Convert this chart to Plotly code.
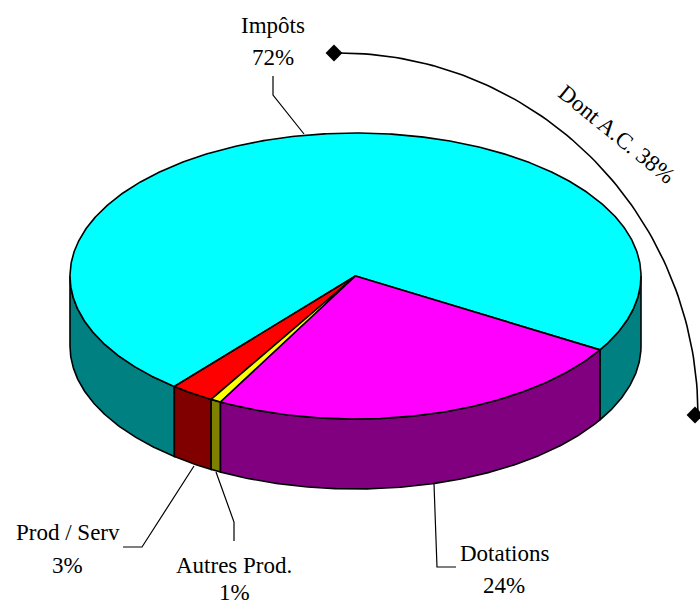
import numpy as np
import plotly.graph_objects as go

# Data
categories = ["Impôts", "Dotations", "Autres Prod.", "Prod / Serv"]
shares = [72.7, 24.2, 0.6, 2.5]
share_labels = ["72%", "24%", "1%", "3%"]
callout_text = "Dont A.C. 38%"

# Styles and layout
top_colors = ["#00FFFF", "#FF00FF", "#FFFF00", "#FF0000"]
wall_colors = ["#008080", "#800080", "#808000", "#800000"]
W, H = 700, 607
CX, CY, RX, RY, DEPTH = 355.5, 276.0, 285.5, 143.0, 70.0
START = 31.1   # degrees, clockwise from east on the ellipse
LINE = dict(color="black", width=1.6)
FONT = dict(family="Liberation Serif", size=23, color="black")

# slice order clockwise from START: Dotations, Autres, Prod, Impots
order = [1, 2, 3, 0]


def ell(t, dy=0.0):
    r = np.radians(t)
    return CX + RX * np.cos(r), CY + RY * np.sin(r) + dy


def poly(xs, ys, color, name):
    return go.Scatter(x=xs, y=ys, mode="lines", fill="toself", fillcolor=color,
                      line=LINE, name=name, hoverinfo="name", showlegend=False)


def wall(t0, t1, color, name):
    t = np.linspace(t0, t1, max(int(abs(t1 - t0) * 2), 2))
    x, y = ell(t)
    xb, yb = ell(t[::-1], DEPTH)
    return poly(np.r_[x, xb, x[0]], np.r_[y, yb, y[0]], color, name)


fig = go.Figure()
angles = {}
a = START
total = sum(shares)
for i in order:
    span = shares[i] / total * 360
    angles[i] = (a, a + span)
    a += span

# Visible walls (front half of the ellipse only)
imp0, imp1 = angles[0]
fig.add_trace(wall(imp0, 180, wall_colors[0], categories[0]))
fig.add_trace(wall(360, imp1, wall_colors[0], categories[0]))
for i in [3, 2, 1]:
    fig.add_trace(wall(angles[i][0], angles[i][1], wall_colors[i], categories[i]))

# Top faces
for i in order[::-1]:
    t = np.linspace(angles[i][0], angles[i][1], max(int((angles[i][1] - angles[i][0]) * 2), 2))
    x, y = ell(t)
    fig.add_trace(poly(np.r_[CX, x, CX], np.r_[CY, y, CY], top_colors[i], categories[i]))

# Leader lines
leaders = [
    ([273, 273, 304], [76, 95, 134]),
    ([434, 437, 456], [484, 567, 567]),
    ([216, 234, 234], [472, 522, 541]),
    ([194, 142, 123], [466, 547, 547]),
]
for lx, ly in leaders:
    fig.add_trace(go.Scatter(x=lx, y=ly, mode="lines", line=dict(color="black", width=1.2),
                             hoverinfo="skip", showlegend=False))

# Callout arc with diamond ends
arc_t = np.linspace(-90, 0, 90)
arc_x = 339 + 359 * np.cos(np.radians(arc_t))
arc_y = 415 + 362 * np.sin(np.radians(arc_t))
fig.add_trace(go.Scatter(x=arc_x, y=arc_y, mode="lines", line=dict(color="black", width=1.6),
                         hoverinfo="skip", showlegend=False))
fig.add_trace(go.Scatter(x=[arc_x[0] - 5, arc_x[-1] - 3], y=[arc_y[0], arc_y[-1]], mode="markers",
                         marker=dict(symbol="diamond", size=13, color="black"),
                         hoverinfo="skip", showlegend=False, cliponaxis=False))

# Labels
label_pos = {
    0: ((273, 25), (273, 57)),
    1: ((504, 553), (504, 585)),
    2: ((234, 565), (234, 592.5)),
    3: ((68, 532), (67, 565)),
}
annotations = []
for i, (p1, p2) in label_pos.items():
    annotations.append(dict(x=p1[0], y=p1[1], text=categories[i], showarrow=False, font=FONT, borderpad=0))
    annotations.append(dict(x=p2[0], y=p2[1], text=share_labels[i], showarrow=False, font=FONT, borderpad=0))
annotations.append(dict(x=617, y=134, text=callout_text, showarrow=False, font=FONT, textangle=39, borderpad=0))

fig.update_layout(
    width=W, height=H, margin=dict(l=0, r=0, t=0, b=0, pad=0),
    paper_bgcolor="white", plot_bgcolor="white", showlegend=False,
    xaxis=dict(range=[0, W], visible=False, fixedrange=True),
    yaxis=dict(range=[H, 0], visible=False, fixedrange=True),
    annotations=annotations,
)

fig.write_html("out.html", config={"displayModeBar": False},
               post_script="document.body.style.margin='0';")
